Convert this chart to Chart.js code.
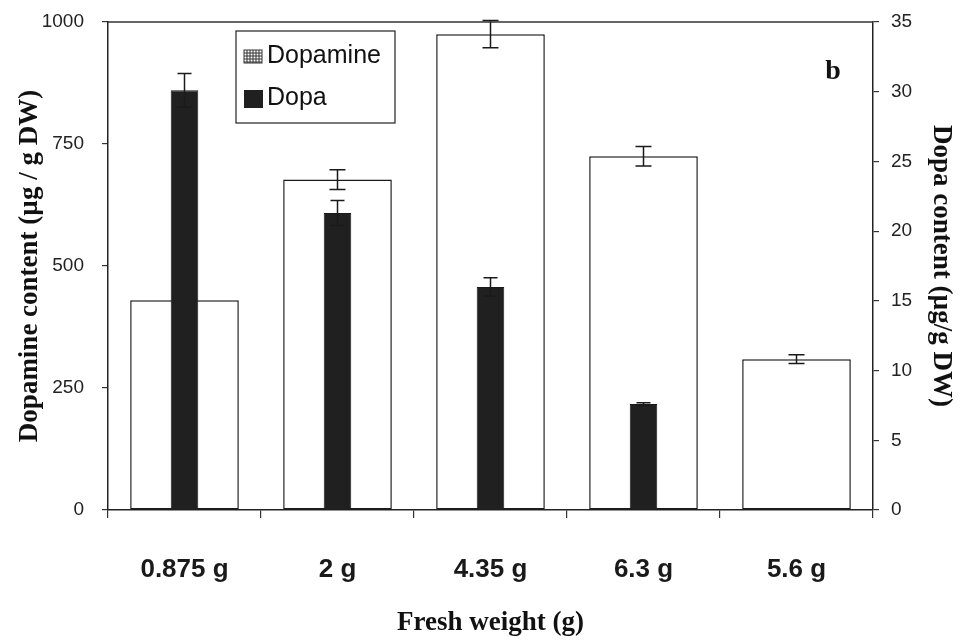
<!DOCTYPE html>
<html>
<head>
<meta charset="utf-8">
<script src="https://cdn.jsdelivr.net/npm/chart.js@4.4.0/dist/chart.umd.min.js"></script>
<style>
    html, body { margin: 0; padding: 0; background: #fff; }
    #wrap { width: 962px; height: 641px; }
</style>
</head>
<body>
<div id="wrap"><canvas id="chart" width="962" height="641"></canvas></div>
<script>
// values
const categories = ["0.875 g", "2 g", "4.35 g", "6.3 g", "5.6 g"];
const dopamine = [430, 677, 975, 725, 309];
const dopamineErr = [0, 20, 28, 20, 9];
const dopa = [30.1, 21.3, 16.0, 7.6, 0];
const dopaErr = [1.2, 0.9, 0.65, 0.1, 0];
const leftTicks = [0, 250, 500, 750, 1000];
const rightTicks = [0, 5, 10, 15, 20, 25, 30, 35];

const ink = "#1a1a1a";

// error bars drawn through the scales
const errorBars = {
    id: "errorBars",
    afterDatasetsDraw(chart) {
        const ctx = chart.ctx;
        const sets = [[0, dopamineErr, "y", 8], [1, dopaErr, "y1", 7]];
        ctx.save();
        ctx.strokeStyle = ink;
        ctx.lineWidth = 1.5;
        sets.forEach(([di, errs, axis, cap]) => {
            const meta = chart.getDatasetMeta(di);
            const scale = chart.scales[axis];
            const vals = chart.data.datasets[di].data;
            meta.data.forEach((bar, i) => {
                if (!errs[i]) return;
                const x = bar.x;
                const yTop = scale.getPixelForValue(vals[i] + errs[i]);
                const yBot = scale.getPixelForValue(vals[i] - errs[i]);
                ctx.beginPath();
                ctx.moveTo(x, yTop); ctx.lineTo(x, yBot);
                ctx.moveTo(x - cap, yTop); ctx.lineTo(x + cap, yTop);
                ctx.moveTo(x - cap, yBot); ctx.lineTo(x + cap, yBot);
                ctx.stroke();
            });
        });
        ctx.restore();
    }
};

// top frame line, legend box and panel letter
const extras = {
    id: "extras",
    afterDraw(chart) {
        const ctx = chart.ctx;
        const a = chart.chartArea;
        ctx.save();
        ctx.strokeStyle = "#333";
        ctx.lineWidth = 1.5;
        ctx.beginPath();
        ctx.moveTo(a.left, a.top); ctx.lineTo(a.right, a.top);
        ctx.stroke();

        // legend
        const lx = a.left + 128, ly = a.top + 9, lw = 159, lh = 92;
        ctx.fillStyle = "#fff";
        ctx.fillRect(lx, ly, lw, lh);
        ctx.lineWidth = 1.2;
        ctx.strokeStyle = "#222";
        ctx.strokeRect(lx, ly, lw, lh);

        // dopamine swatch with grid pattern
        const sx = lx + 8, sy = ly + 19, sw = 18, sh = 13;
        ctx.fillStyle = "#fff";
        ctx.fillRect(sx, sy, sw, sh);
        ctx.strokeStyle = "#333";
        ctx.lineWidth = 1;
        ctx.strokeRect(sx, sy, sw, sh);
        ctx.beginPath();
        for (let gx = sx + 3; gx < sx + sw; gx += 3) { ctx.moveTo(gx, sy); ctx.lineTo(gx, sy + sh); }
        for (let gy = sy + 3; gy < sy + sh; gy += 3) { ctx.moveTo(sx, gy); ctx.lineTo(sx + sw, gy); }
        ctx.stroke();

        ctx.fillStyle = chart.data.datasets[1].backgroundColor;
        ctx.fillRect(lx + 8, ly + 59, 19, 18);

        ctx.fillStyle = "#111";
        ctx.font = "25px 'Liberation Sans', Arial, sans-serif";
        ctx.textBaseline = "middle";
        ctx.fillText(chart.data.datasets[0].label, lx + 31, ly + 25);
        ctx.fillText(chart.data.datasets[1].label, lx + 31, ly + 67);

        ctx.font = "bold 28px 'Liberation Serif', 'Times New Roman', serif";
        ctx.textAlign = "center";
        ctx.fillText("b", a.right - 40, a.top + 50);
        ctx.restore();
    }
};

const serifTitle = { family: "Liberation Serif", size: 27, weight: "bold" };
const tickFont = { family: "Liberation Sans", size: 19 };

// keep plot area flush: drop the half-label padding on the value axes
function fixVertical(width) {
    return s => {
        s.width = width;
        s.paddingTop = 0;
        s.paddingBottom = 0;
    };
}

new Chart(document.getElementById("chart").getContext("2d"), {
    type: "bar",
    data: {
        labels: categories,
        datasets: [
            {
                label: "Dopamine",
                data: dopamine,
                yAxisID: "y",
                backgroundColor: "#fff",
                borderColor: ink,
                borderWidth: 1.5,
                borderSkipped: false,
                barPercentage: 0.71,
                categoryPercentage: 1,
                grouped: false,
                order: 2
            },
            {
                label: "Dopa",
                data: dopa,
                yAxisID: "y1",
                backgroundColor: "#202020",
                borderColor: ink,
                borderWidth: 1,
                barPercentage: 0.18,
                categoryPercentage: 1,
                grouped: false,
                order: 1
            }
        ]
    },
    options: {
        responsive: false,
        animation: false,
        layout: { padding: { top: 22, left: 0, right: 0, bottom: 0 } },
        plugins: {
            legend: { display: false },
            tooltip: { enabled: false }
        },
        scales: {
            x: {
                grid: { drawOnChartArea: false, offset: true, tickLength: 8, color: "#333", lineWidth: 1.2 },
                border: { color: "#222", width: 1.5 },
                ticks: { font: { family: "Liberation Sans", size: 26, weight: "bold" }, color: ink, padding: 36 },
                title: { display: true, text: "Fresh weight (g)", font: serifTitle, color: "#111", padding: { top: 2, bottom: 2 } },
                afterFit: s => { s.height = 131; }
            },
            y: {
                position: "left",
                min: 0,
                max: 1000,
                afterBuildTicks: s => { s.ticks = leftTicks.map(v => ({ value: v })); },
                grid: { drawOnChartArea: false, tickLength: 6, color: "#333", lineWidth: 1.2 },
                border: { color: "#222", width: 1.5 },
                ticks: { font: tickFont, color: "#222", padding: 18, callback: v => String(v) },
                title: { display: true, text: "Dopamine content (\u00b5g / g DW)", font: serifTitle, color: "#111", padding: { top: 14, bottom: 14 } },
                afterFit: fixVertical(108)
            },
            y1: {
                position: "right",
                min: 0,
                max: 35,
                afterBuildTicks: s => { s.ticks = rightTicks.map(v => ({ value: v })); },
                grid: { drawOnChartArea: false, tickLength: 6, color: "#333", lineWidth: 1.2 },
                border: { color: "#222", width: 1.5 },
                ticks: { font: tickFont, color: "#222", padding: 12, callback: v => String(v) },
                title: { display: true, text: "Dopa content (\u00b5g/g DW)", font: serifTitle, color: "#111", padding: { top: 5, bottom: 5 } },
                afterFit: fixVertical(89)
            }
        }
    },
    plugins: [errorBars, extras]
});
</script>
</body>
</html>
